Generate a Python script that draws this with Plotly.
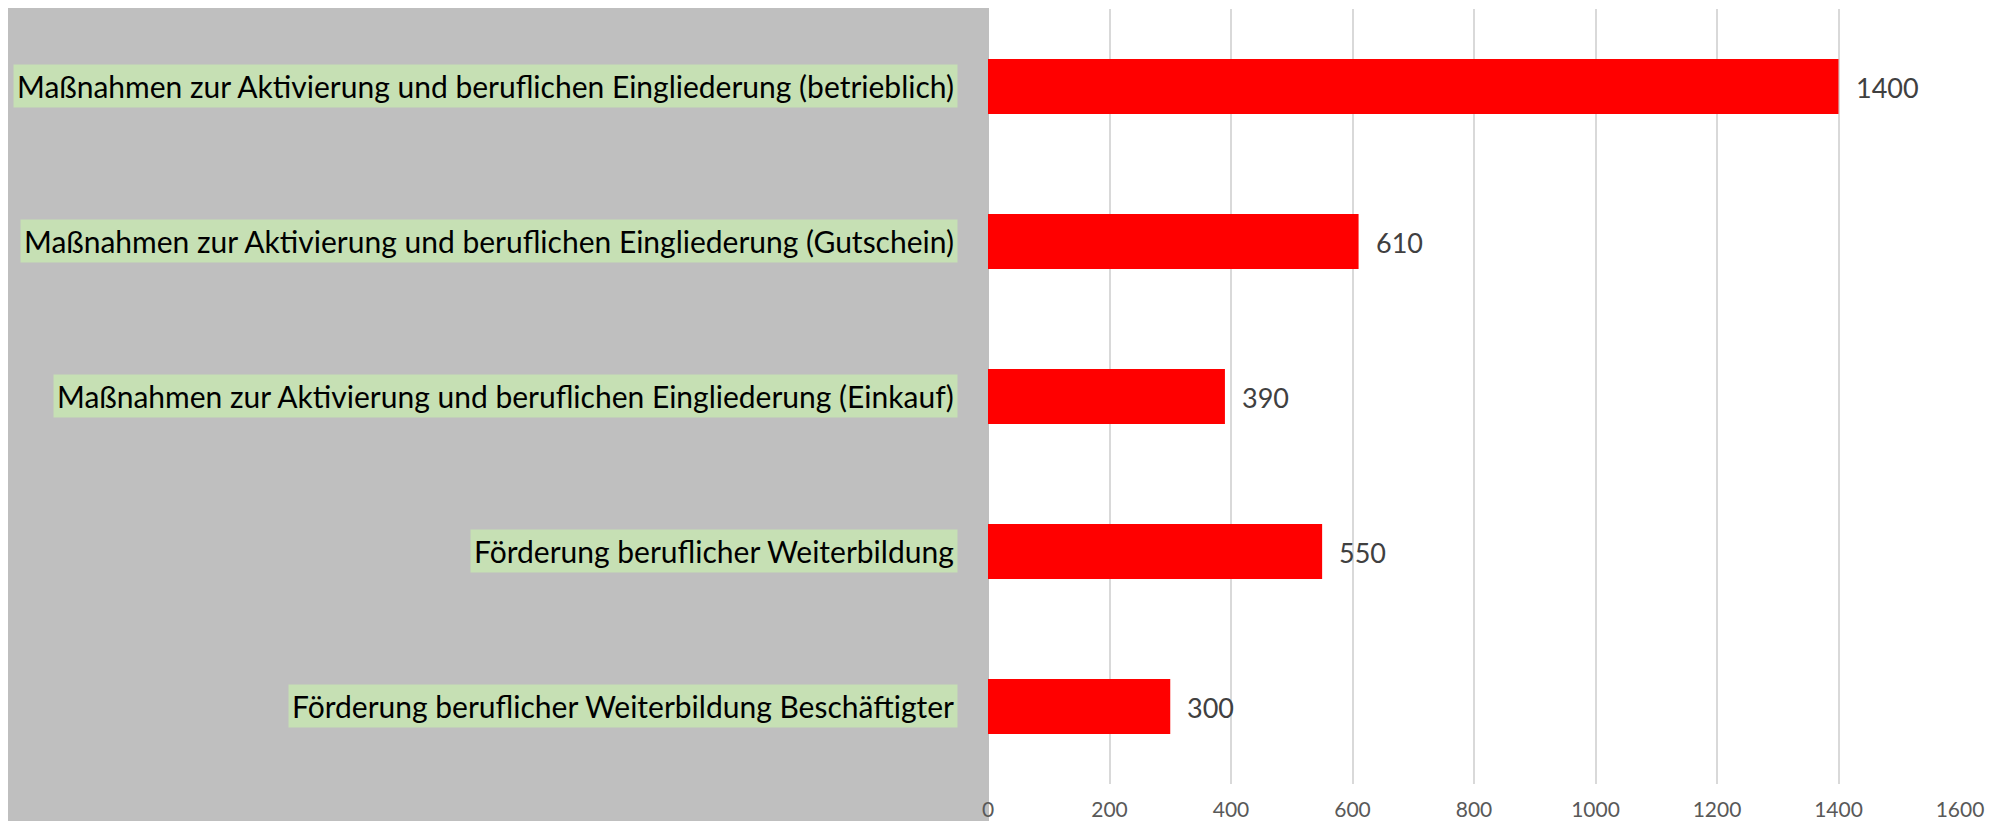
import plotly.graph_objects as go

categories = [
    "Maßnahmen zur Aktivierung und beruflichen Eingliederung (betrieblich)",
    "Maßnahmen zur Aktivierung und beruflichen Eingliederung (Gutschein)",
    "Maßnahmen zur Aktivierung und beruflichen Eingliederung (Einkauf)",
    "Förderung beruflicher Weiterbildung",
    "Förderung beruflicher Weiterbildung Beschäftigter",
]
values = [1400, 610, 390, 550, 300]
x_ticks = [0, 200, 400, 600, 800, 1000, 1200, 1400, 1600]

# page body keeps its default 8px margin -> figure is 16px smaller than the window
W, H = 1985, 813
ML, MR, MT, MB = 980, 33, 1, 37
pw = W - ML - MR
ph = H - MT - MB

fig = go.Figure()
fig.add_trace(go.Bar(
    x=values, y=categories, orientation="h",
    marker=dict(color="#FF0000", line=dict(width=0)),
    hoverinfo="x+y",
))

annotations = []
for c, v in zip(categories, values):
    annotations.append(dict(
        x=v, y=c, xref="x", yref="y", text=str(v), showarrow=False,
        xanchor="left", yanchor="middle", xshift=15, yshift=-1,
        font=dict(family="Lato, sans-serif", size=27, color="#404040"),
    ))
    annotations.append(dict(
        x=0, y=c, xref="paper", yref="y", text=c, showarrow=False,
        xanchor="right", yanchor="middle", xshift=-30, yshift=1,
        bgcolor="#C6E0B4", borderpad=3,
        font=dict(family="Lato, sans-serif", size=30, color="#000000"),
    ))

fig.update_layout(
    width=W, height=H, autosize=False,
    margin=dict(l=ML, r=MR, t=MT, b=MB, pad=0, autoexpand=False),
    paper_bgcolor="#FFFFFF", plot_bgcolor="#FFFFFF",
    showlegend=False, bargap=0.645,
    annotations=annotations,
    shapes=[dict(
        type="rect", xref="paper", yref="paper", layer="below",
        x0=-ML / pw, x1=1 / pw,
        y0=-MB / ph, y1=(H - MB) / ph,
        fillcolor="#BFBFBF", line=dict(width=0),
    )],
    xaxis=dict(
        range=[0, 1600], tickvals=x_ticks, showgrid=True,
        gridcolor="#D9D9D9", gridwidth=2, zeroline=False,
        showline=False, ticks="", ticklabelstandoff=11, automargin=False,
        tickfont=dict(family="Lato, sans-serif", size=21, color="#595959"),
        fixedrange=True,
    ),
    yaxis=dict(
        autorange="reversed", showticklabels=False, showgrid=False,
        zeroline=False, showline=False, ticks="", fixedrange=True,
        automargin=False,
    ),
)

fig.write_html("out.html", config={"displayModeBar": False})
